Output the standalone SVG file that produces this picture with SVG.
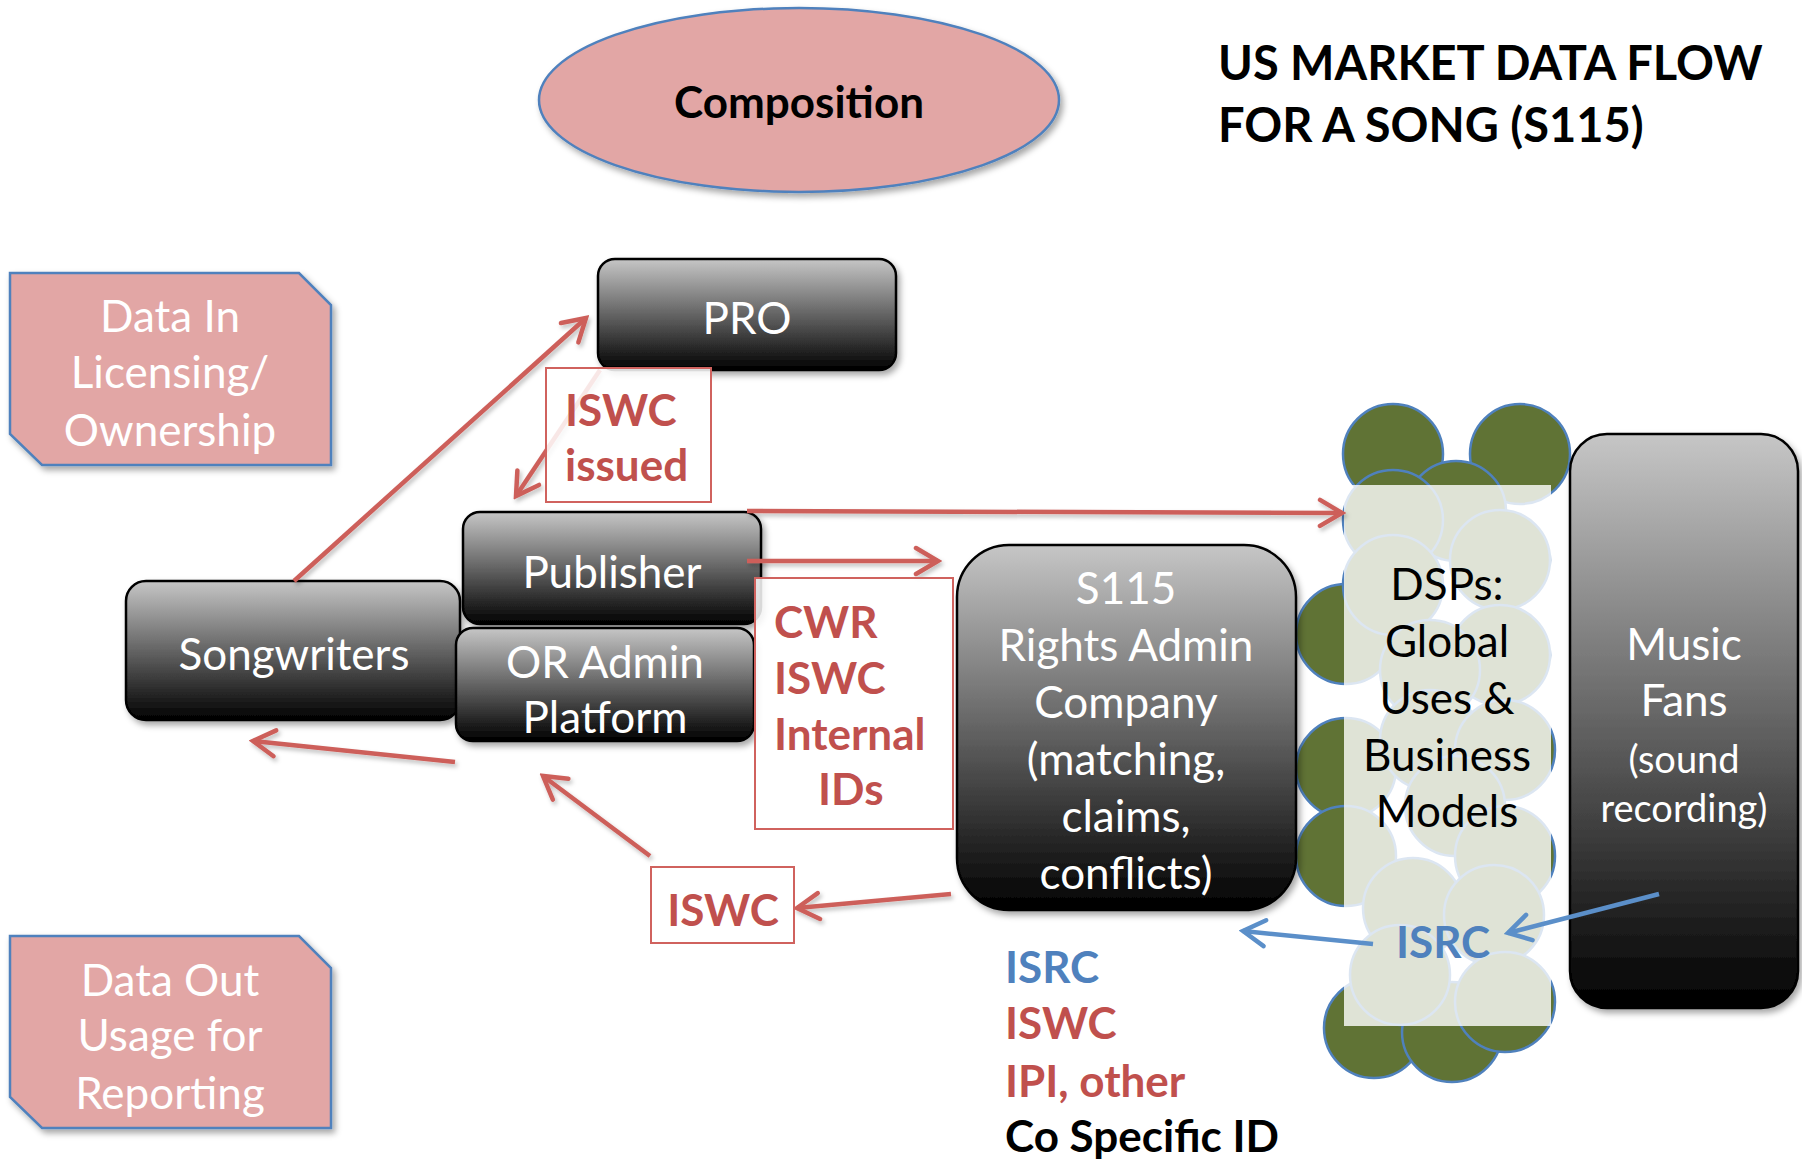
<svg xmlns="http://www.w3.org/2000/svg" width="1802" height="1164" viewBox="0 0 1802 1164">
<defs>
<style>
.node{fill:url(#g);stroke:#000;stroke-width:2.5;filter:url(#sh)}
.wt{font-family:Lato,"Liberation Sans",sans-serif;font-size:44px;fill:#fff;text-anchor:middle}
.sm{font-size:38px}
.bt{font-family:Lato,"Liberation Sans",sans-serif;font-size:44px;fill:#000;text-anchor:middle}
.rb{font-family:Lato,"Liberation Sans",sans-serif;font-size:44px;font-weight:bold;fill:#c0504d}
.pink{fill:#e2a6a5;stroke:#4f81bd;stroke-width:2.5;filter:url(#sh)}
.lbl{fill:#fff;fill-opacity:0.85;stroke:#d0625e;stroke-width:2}
.ra{fill:none;stroke:#cd5f5a;stroke-width:4.5;marker-end:url(#mr);filter:url(#sh2)}
.ba{fill:none;stroke:#5b8fc9;stroke-width:4.5;marker-end:url(#mb)}
.gc{fill:#607335;stroke:#4f81bd;stroke-width:2.5}
.tt{font-family:Lato,"Liberation Sans",sans-serif;font-size:47px;font-weight:bold;fill:#000}
</style>
<linearGradient id="g" x1="0" y1="0" x2="0" y2="1">
<stop offset="0" stop-color="#c6c6c6"/>
<stop offset="0.55" stop-color="#5a5a5a"/>
<stop offset="1" stop-color="#000"/>
</linearGradient>
<filter id="sh" x="-10%" y="-10%" width="130%" height="130%">
<feDropShadow dx="3" dy="4" stdDeviation="3" flood-color="#000" flood-opacity="0.35"/>
</filter>
<filter id="sh2" filterUnits="userSpaceOnUse" x="0" y="0" width="1802" height="1164">
<feDropShadow dx="2" dy="3" stdDeviation="2" flood-color="#000" flood-opacity="0.25"/>
</filter>
<marker id="mr" viewBox="-28 -18 32 36" refX="0" refY="0" markerWidth="32" markerHeight="36" markerUnits="userSpaceOnUse" orient="auto">
<path d="M-22,-13 L0,0 L-22,13" fill="none" stroke="#cd5f5a" stroke-width="4.5" stroke-linecap="round"/>
</marker>
<marker id="mb" viewBox="-28 -18 32 36" refX="0" refY="0" markerWidth="32" markerHeight="36" markerUnits="userSpaceOnUse" orient="auto">
<path d="M-22,-13 L0,0 L-22,13" fill="none" stroke="#5b8fc9" stroke-width="4.5" stroke-linecap="round"/>
</marker>
</defs>
<rect width="1802" height="1164" fill="#fff"/>

<g id="title">
<text x="1218" y="80" class="tt">US MARKET DATA FLOW</text>
<text x="1218" y="142" class="tt">FOR A SONG (S115)</text>
</g>

<g id="composition">
<ellipse cx="799" cy="100" rx="260" ry="92" class="pink"/>
<text x="799" y="118" class="bt" font-weight="bold">Composition</text>
</g>

<g id="data-in">
<path d="M10,273 L299,273 L331,305 L331,465 L42,465 L10,434 Z" class="pink"/>
<text x="170" y="332" class="wt">Data In</text>
<text x="170" y="388" class="wt">Licensing/</text>
<text x="170" y="446" class="wt">Ownership</text>
</g>

<g id="data-out">
<path d="M10,936 L299,936 L331,968 L331,1128 L42,1128 L10,1097 Z" class="pink"/>
<text x="170" y="996" class="wt">Data Out</text>
<text x="170" y="1051" class="wt">Usage for</text>
<text x="170" y="1109" class="wt">Reporting</text>
</g>

<g id="dsps">
<circle cx="1393" cy="454" r="50" class="gc"/>
<circle cx="1520" cy="454" r="50" class="gc"/>
<circle cx="1456" cy="511" r="50" class="gc"/>
<circle cx="1393" cy="520" r="50" class="gc"/>
<circle cx="1500" cy="560" r="50" class="gc"/>
<circle cx="1346" cy="634" r="50" class="gc"/>
<circle cx="1393" cy="585" r="50" class="gc"/>
<circle cx="1500" cy="655" r="50" class="gc"/>
<circle cx="1430" cy="670" r="50" class="gc"/>
<circle cx="1346" cy="768" r="50" class="gc"/>
<circle cx="1430" cy="740" r="50" class="gc"/>
<circle cx="1505" cy="750" r="50" class="gc"/>
<circle cx="1455" cy="806" r="50" class="gc"/>
<circle cx="1346" cy="856" r="50" class="gc"/>
<circle cx="1505" cy="856" r="50" class="gc"/>
<circle cx="1413" cy="908" r="50" class="gc"/>
<circle cx="1494" cy="915" r="50" class="gc"/>
<circle cx="1374" cy="1028" r="50" class="gc"/>
<circle cx="1452" cy="1032" r="50" class="gc"/>
<circle cx="1505" cy="1002" r="50" class="gc"/>
<circle cx="1400" cy="975" r="50" class="gc"/>
<rect x="1344" y="485" width="207" height="541" fill="#fff" fill-opacity="0.8"/>
<text x="1447" y="600" class="bt">DSPs:</text>
<text x="1447" y="657" class="bt">Global</text>
<text x="1447" y="714" class="bt">Uses &amp;</text>
<text x="1447" y="771" class="bt">Business</text>
<text x="1447" y="827" class="bt">Models</text>
</g>

<g id="pro">
<rect x="598" y="259" width="298" height="111" rx="17" class="node"/>
<text x="747" y="334" class="wt">PRO</text>
</g>

<g id="songwriters">
<rect x="126" y="581" width="334" height="139" rx="20" class="node"/>
<text x="294" y="670" class="wt">Songwriters</text>
</g>

<g id="publisher">
<rect x="463" y="512" width="298" height="112" rx="17" class="node"/>
<text x="612" y="588" class="wt">Publisher</text>
</g>

<g id="or-admin">
<rect x="456" y="628" width="298" height="113" rx="17" class="node"/>
<text x="605" y="678" class="wt">OR Admin</text>
<text x="605" y="733" class="wt">Platform</text>
</g>

<g id="s115">
<rect x="957" y="545" width="339" height="365" rx="52" class="node"/>
<text x="1126" y="604" class="wt">S115</text>
<text x="1126" y="661" class="wt">Rights Admin</text>
<text x="1126" y="718" class="wt">Company</text>
<text x="1126" y="775" class="wt">(matching,</text>
<text x="1126" y="832" class="wt">claims,</text>
<text x="1126" y="889" class="wt">conflicts)</text>
</g>

<g id="music-fans">
<rect x="1570" y="434" width="228" height="574" rx="37" class="node"/>
<text x="1684" y="660" class="wt">Music</text>
<text x="1684" y="716" class="wt">Fans</text>
<text x="1684" y="773" class="wt sm">(sound</text>
<text x="1684" y="822" class="wt sm">recording)</text>
</g>

<g id="connectors">
<line x1="294" y1="581" x2="586" y2="318" class="ra"/>
<line x1="600" y1="370" x2="516" y2="496" class="ra"/>
<line x1="747" y1="511" x2="1342" y2="513" class="ra"/>
<line x1="747" y1="561" x2="938" y2="561" class="ra"/>
<line x1="455" y1="762" x2="253" y2="741" class="ra"/>
<line x1="650" y1="856" x2="543" y2="776" class="ra"/>
<line x1="951" y1="894" x2="797" y2="908" class="ra"/>
<line x1="1373" y1="944" x2="1243" y2="931" class="ba"/>
<line x1="1659" y1="894" x2="1508" y2="933" class="ba"/>
</g>

<g id="label-iswc-issued">
<rect x="546" y="368" width="165" height="134" class="lbl"/>
<text x="565" y="426" class="rb">ISWC</text>
<text x="565" y="481" class="rb">issued</text>
</g>

<g id="label-cwr">
<rect x="755" y="578" width="198" height="251" class="lbl"/>
<text x="774" y="638" class="rb">CWR</text>
<text x="774" y="694" class="rb">ISWC</text>
<text x="774" y="750" class="rb">Internal</text>
<text x="818" y="805" class="rb">IDs</text>
</g>

<g id="label-iswc">
<rect x="651" y="867" width="143" height="76" class="lbl"/>
<text x="723" y="926" class="rb" text-anchor="middle">ISWC</text>
</g>

<g id="label-isrc-dsp">
<text x="1396" y="958" class="rb" style="fill:#4f81bd">ISRC</text>
</g>

<g id="id-list">
<text x="1005" y="983" class="rb" style="fill:#4f81bd">ISRC</text>
<text x="1005" y="1039" class="rb">ISWC</text>
<text x="1005" y="1097" class="rb">IPI, other</text>
<text x="1005" y="1152" class="rb" style="fill:#000">Co Specific ID</text>
</g>
</svg>
